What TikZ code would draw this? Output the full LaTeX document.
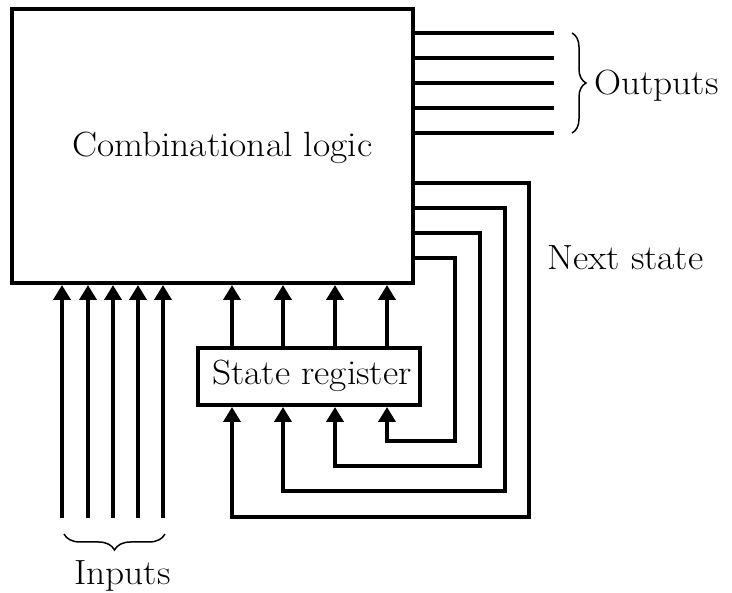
\documentclass[tikz,border=0pt]{standalone}
\usepackage{fontspec}
\setmainfont{Latin Modern Roman}[FakeStretch=1.07]
\usetikzlibrary{arrows.meta,decorations.pathreplacing}
\begin{document}
\begin{tikzpicture}[x=1pt,y=-1pt,
  wire/.style={line width=4pt},
  sig/.style={wire,-{Triangle[width=17pt,length=15pt]}},
  block/.style={draw,line width=4pt,inner sep=0pt},
  lbl/.style={inner sep=0pt,anchor=base west,font=\fontsize{35}{40}\selectfont},
  bracket/.style={decorate,decoration={brace,amplitude=14pt},line width=1.5pt}]
\useasboundingbox (0,0) rectangle (732,593);

% the two blocks
\node[block,minimum width=401pt,minimum height=274pt] (comb) at (212.5,146) {};
\node[block,minimum width=222pt,minimum height=57pt] (reg) at (309,376.5) {};

% labels
\node[lbl] (combtxt) at (72,157) {Combinational logic};
\node[lbl] (regtxt) at (212,385) {State register};
\node[lbl] (outtxt) at (594,95) {Outputs};
\node[lbl] (nexttxt) at (547,270) {Next state};
\node[lbl] (intxt) at (74,585) {Inputs};

% primary inputs
\foreach \x [count=\i] in {62,88,113,138,163} {
  \coordinate (in\i) at (\x,518);
  \draw[sig] (in\i) -- (in\i |- comb.south);
}

% present state into the logic
\foreach \x [count=\i] in {232,283,335,387} {
  \coordinate (s\i) at (\x,0);
  \draw[sig] (reg.north -| s\i) -- (comb.south -| s\i);
}

% next state fed back into the register
\foreach \i/\ty/\rx/\by in {1/183/529/517, 2/208/505/491, 3/233/480/466, 4/258/455/441} {
  \coordinate (t\i) at (0,\ty);
  \coordinate (k\i) at (\rx,\by);
  \draw[sig] (comb.east |- t\i) -| (k\i) -| (reg.south -| s\i);
}

% outputs
\foreach \y [count=\i] in {33,58,83,108,133} {
  \coordinate (o\i) at (554,\y);
  \draw[wire] (comb.east |- o\i) -- (o\i);
}

% braces
\coordinate (ob1) at (572,33);
\coordinate (ob2) at (572,133);
\draw[bracket] (ob1) -- (ob2);
\coordinate (ib1) at (165,534);
\coordinate (ib2) at (64,534);
\draw[bracket,decoration={amplitude=16pt}] (ib1) -- (ib2);
\end{tikzpicture}
\end{document}
